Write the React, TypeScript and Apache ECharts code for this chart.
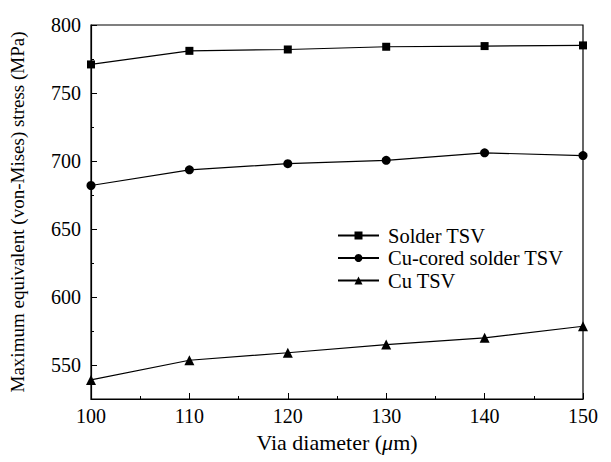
import React, { useEffect, useRef } from "react";
import * as echarts from "echarts";

const diameters = [100, 110, 120, 130, 140, 150];
const solderTSV = [771, 781, 782, 784, 784.5, 785];
const cuCoredTSV = [682, 693.5, 698, 700.5, 706, 704];
const cuTSV = [539, 553.5, 559, 565, 570, 578.5];
const yMajorTicks = [550, 600, 650, 700, 750, 800];
const yMinorTicks = [575, 625, 675, 725, 775];

const FONT = "'Liberation Serif', 'Times New Roman', serif";

export default function App() {
  const ref = useRef<HTMLDivElement>(null);
  useEffect(() => {
    if (!ref.current) return;
    const chart = echarts.init(ref.current, null, { renderer: "svg" });
    const mk = (arr: number[]) => diameters.map((d, i) => [d, arr[i]]);
    const lineStyle = { color: "#000", width: 1.2 };
    chart.setOption({
      animation: false,
      backgroundColor: "#fff",
      textStyle: { fontFamily: FONT, color: "#000" },
      grid: { left: 91, top: 25, right: 28, bottom: 63, show: true, borderColor: "#000", borderWidth: 1.2, backgroundColor: "transparent" },
      legend: {
        left: 332,
        top: 220,
        orient: "vertical",
        itemGap: 1.5,
        itemWidth: 41,
        itemHeight: 10,
        textStyle: { fontFamily: FONT, fontSize: 20.5, lineHeight: 20, color: "#000", padding: [0, 0, 0, 4] },
        data: ["Solder TSV", "Cu-cored solder TSV", "Cu TSV"],
      },
      xAxis: {
        type: "value",
        min: 100,
        max: 150,
        interval: 10,
        name: "Via diameter ({i|μ}m)",
        nameLocation: "middle",
        nameGap: 32,
        nameTextStyle: { fontFamily: FONT, fontSize: 22, color: "#000", rich: { i: { fontStyle: "italic", fontFamily: FONT, fontSize: 22 } } },
        axisLine: { lineStyle: { color: "#000", width: 1.2 } },
        axisTick: { inside: true, length: 6, lineStyle: { color: "#000" } },
        minorTick: { show: true, splitNumber: 2, length: 3, lineStyle: { color: "#000" } },
        axisLabel: { fontFamily: FONT, fontSize: 20, color: "#000", margin: 7 },
        splitLine: { show: false },
      },
      yAxis: [
        {
          type: "value",
          min: 525,
          max: 800,
          name: "Maximum equivalent (von-Mises) stress (MPa)",
          nameLocation: "middle",
          nameGap: 64,
          nameTextStyle: { fontFamily: FONT, fontSize: 19, color: "#000" },
          axisLine: { lineStyle: { color: "#000", width: 1.2 } },
          axisTick: { inside: true, length: 6, customValues: yMajorTicks, lineStyle: { color: "#000" } },
          axisLabel: { fontFamily: FONT, fontSize: 20, color: "#000", margin: 10, customValues: yMajorTicks },
          splitLine: { show: false },
        },
        {
          type: "value",
          min: 525,
          max: 800,
          position: "left",
          axisLine: { show: false },
          axisTick: { inside: true, length: 3, customValues: yMinorTicks, lineStyle: { color: "#000" } },
          axisLabel: { show: false },
          splitLine: { show: false },
        },
      ],
      series: [
        {
          name: "Solder TSV",
          type: "line",
          data: mk(solderTSV),
          symbol: "rect",
          symbolSize: 8,
          itemStyle: { color: "#000" },
          lineStyle,
        },
        {
          name: "Cu-cored solder TSV",
          type: "line",
          data: mk(cuCoredTSV),
          symbol: "circle",
          symbolSize: 9,
          itemStyle: { color: "#000" },
          lineStyle,
        },
        {
          name: "Cu TSV",
          type: "line",
          data: mk(cuTSV),
          symbol: "triangle",
          symbolSize: 10,
          itemStyle: { color: "#000" },
          lineStyle,
        },
      ],
    });
    return () => chart.dispose();
  }, []);
  return <div ref={ref} style={{ width: 611, height: 462, position: "absolute", left: 0, top: 0 }} />;
}
